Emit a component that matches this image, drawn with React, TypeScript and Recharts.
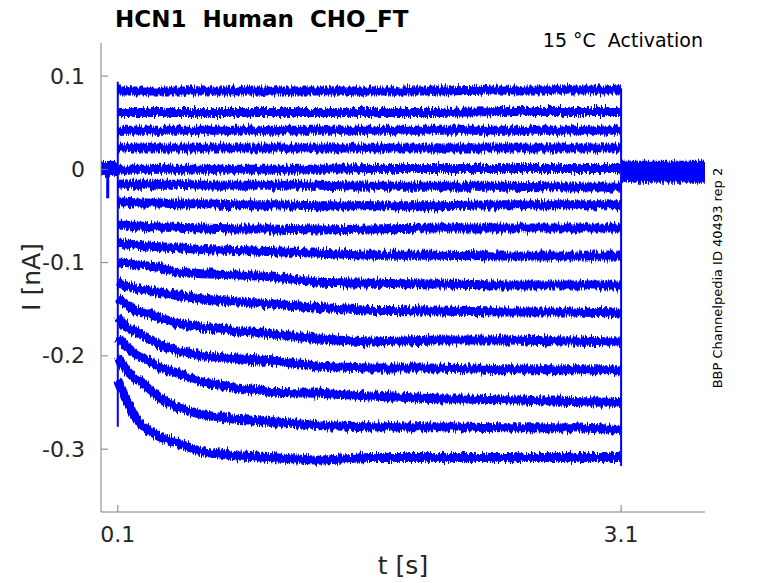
import React from 'react';
import { ComposedChart, Line, XAxis, YAxis } from 'recharts';

// sample times (s) inside the activation step
const times = [0.1, 0.15, 0.2, 0.25, 0.35, 0.45, 0.6, 0.8, 1.0, 1.3, 1.6, 2.0, 2.4, 2.8, 3.1];

// current traces (nA), top to bottom
const trace01 = [0.084, 0.084, 0.084, 0.084, 0.084, 0.084, 0.084, 0.084, 0.084, 0.084, 0.084, 0.084, 0.085, 0.085, 0.085];
const trace02 = [0.061, 0.061, 0.061, 0.061, 0.061, 0.061, 0.061, 0.061, 0.061, 0.061, 0.061, 0.061, 0.062, 0.062, 0.062];
const trace03 = [0.042, 0.042, 0.042, 0.042, 0.042, 0.042, 0.042, 0.042, 0.042, 0.042, 0.042, 0.042, 0.042, 0.042, 0.042];
const trace04 = [0.023, 0.023, 0.023, 0.023, 0.023, 0.023, 0.023, 0.023, 0.023, 0.023, 0.023, 0.023, 0.023, 0.023, 0.023];
const trace05 = [0.0, 0.0, 0.0, 0.0, 0.0, 0.0, 0.0, 0.0, 0.0, 0.0, 0.001, 0.001, 0.001, 0.001, 0.001];
const trace06 = [-0.016, -0.016, -0.016, -0.016, -0.016, -0.016, -0.017, -0.017, -0.017, -0.017, -0.018, -0.018, -0.018, -0.019, -0.019];
const trace07 = [-0.035, -0.035, -0.036, -0.036, -0.036, -0.037, -0.037, -0.038, -0.038, -0.039, -0.039, -0.039, -0.038, -0.038, -0.038];
const trace08 = [-0.06, -0.06, -0.061, -0.061, -0.062, -0.062, -0.063, -0.064, -0.064, -0.065, -0.064, -0.063, -0.063, -0.063, -0.063];
const trace09 = [-0.079, -0.08, -0.081, -0.082, -0.083, -0.084, -0.086, -0.087, -0.088, -0.09, -0.092, -0.092, -0.093, -0.093, -0.093];
const trace10 = [-0.1, -0.101, -0.102, -0.103, -0.105, -0.11, -0.112, -0.113, -0.115, -0.121, -0.122, -0.123, -0.124, -0.124, -0.124];
const trace11 = [-0.121, -0.125, -0.127, -0.129, -0.132, -0.135, -0.139, -0.142, -0.144, -0.148, -0.151, -0.152, -0.153, -0.153, -0.154];
const trace12 = [-0.138, -0.145, -0.151, -0.153, -0.159, -0.165, -0.169, -0.173, -0.176, -0.182, -0.185, -0.183, -0.183, -0.184, -0.185];
const trace13 = [-0.159, -0.169, -0.174, -0.178, -0.188, -0.194, -0.2, -0.203, -0.205, -0.211, -0.213, -0.213, -0.215, -0.215, -0.215];
const trace14 = [-0.18, -0.19, -0.197, -0.202, -0.213, -0.218, -0.228, -0.234, -0.239, -0.24, -0.243, -0.246, -0.247, -0.249, -0.25];
const trace15 = [-0.202, -0.215, -0.224, -0.229, -0.245, -0.255, -0.263, -0.268, -0.27, -0.275, -0.276, -0.276, -0.277, -0.277, -0.279];
const trace16 = [-0.226, -0.247, -0.265, -0.276, -0.287, -0.293, -0.303, -0.307, -0.309, -0.312, -0.309, -0.309, -0.309, -0.309, -0.309];

// holding segments before and after the step
const preTimes = [0, 0.1];
const preLevel = [0.001, 0.001];
const tailTimes = [3.1, 3.6];
const tailLevel = [-0.0025, -0.0025];

// vertical edges of the step and the artefact before it
const stepOnTime = 0.1;
const stepOnRange = [0.094, -0.276];
const stepOffTime = 3.1;
const stepOffRange = [0.087, -0.318];
const spikeTime = 0.04;
const spikeRange = [-0.004, -0.031];

const xTicks = [0.1, 3.1];
const yTicks = [-0.3, -0.2, -0.1, 0, 0.1];

const traces = [trace01, trace02, trace03, trace04, trace05, trace06, trace07, trace08, trace09, trace10, trace11, trace12, trace13, trace14, trace15, trace16];

const table = times.map((t, i) => {
  const row: Record<string, number> = { t };
  traces.forEach((tr, k) => {
    row['s' + k] = tr[i];
  });
  return row;
});

const preData = preTimes.map((t, i) => ({ t, v: preLevel[i] }));
const tailData = tailTimes.map((t, i) => ({ t, v: tailLevel[i] }));
const stepOnData = stepOnRange.map((v) => ({ t: stepOnTime, v }));
const stepOffData = stepOffRange.map((v) => ({ t: stepOffTime, v }));
const spikeData = spikeRange.map((v) => ({ t: spikeTime, v }));

const FONT = 'DejaVu Sans';
const BLUE = '#0000ff';
const AXIS = '#808080';
const TEXT = '#262626';

const YTick = (props: any) => {
  const { x, y, payload } = props;
  return (
    <g>
      <line x1={x} x2={x + 7} y1={y} y2={y} stroke={AXIS} strokeWidth={1} />
      <text x={x - 16} y={y} textAnchor="end" dominantBaseline="central" fontSize={22} fill={TEXT} fontFamily={FONT}>
        {String(payload.value)}
      </text>
    </g>
  );
};

const XTick = (props: any) => {
  const { x, y, payload } = props;
  return (
    <g>
      <line x1={x} x2={x} y1={y} y2={y - 7} stroke={AXIS} strokeWidth={1} />
      <text x={x} y={y + 30} textAnchor="middle" fontSize={22} fill={TEXT} fontFamily={FONT}>
        {String(payload.value)}
      </text>
    </g>
  );
};

export default function App() {
  return (
    <div style={{ position: 'absolute', left: 0, top: 0, width: 778, height: 583, background: '#fff' }}>
      <svg width={0} height={0} style={{ position: 'absolute' }}>
        <defs>
          <filter id="jitter" filterUnits="userSpaceOnUse" x={0} y={0} width={778} height={583}>
            <feTurbulence type="fractalNoise" baseFrequency="0.7 0.05" numOctaves={3} seed={7} result="n" />
            <feColorMatrix in="n" type="matrix" values="0 0 0 0 0.5  0 1 0 0 0  0 0 1 0 0  0 0 0 0 1" result="m" />
            <feDisplacementMap in="SourceGraphic" in2="m" scale={9} xChannelSelector="R" yChannelSelector="G" />
          </filter>
        </defs>
      </svg>
      <ComposedChart width={778} height={583} data={table} margin={{ top: 43, right: 73, bottom: 0, left: 0 }}>
        <XAxis
          type="number"
          dataKey="t"
          domain={[0, 3.6]}
          ticks={xTicks}
          allowDataOverflow
          height={71}
          tickSize={0}
          tickMargin={0}
          tickLine={false}
          axisLine={{ stroke: AXIS }}
          tick={<XTick />}
          interval={0}
        />
        <YAxis
          type="number"
          domain={[-0.3674, 0.1355]}
          ticks={yTicks}
          allowDataOverflow
          width={101}
          tickSize={0}
          tickMargin={0}
          tickLine={false}
          axisLine={{ stroke: AXIS }}
          tick={<YTick />}
          interval={0}
        />
        <Line data={preData} dataKey="v" stroke={BLUE} strokeWidth={15} dot={false} isAnimationActive={false} strokeLinecap="butt" filter="url(#jitter)" />
        <Line data={spikeData} dataKey="v" stroke={BLUE} strokeWidth={3} dot={false} isAnimationActive={false} strokeLinecap="butt" />
        <Line data={tailData} dataKey="v" stroke={BLUE} strokeWidth={22} dot={false} isAnimationActive={false} strokeLinecap="butt" filter="url(#jitter)" />
        {traces.map((_, k) => (
          <Line
            key={k}
            dataKey={'s' + k}
            stroke={BLUE}
            strokeWidth={9}
            dot={false}
            isAnimationActive={false}
            strokeLinecap="butt"
            strokeLinejoin="round"
            filter="url(#jitter)"
          />
        ))}
        <Line data={stepOnData} dataKey="v" stroke={BLUE} strokeWidth={2} dot={false} isAnimationActive={false} strokeLinecap="butt" />
        <Line data={stepOffData} dataKey="v" stroke={BLUE} strokeWidth={2} dot={false} isAnimationActive={false} strokeLinecap="butt" />
      </ComposedChart>
      <svg width={778} height={583} style={{ position: 'absolute', left: 0, top: 0, pointerEvents: 'none' }}>
        <text x={115} y={27} fontSize={23} fontWeight="bold" fill="#000" fontFamily={FONT} style={{ whiteSpace: 'pre' }}>
          {'HCN1  Human  CHO_FT'}
        </text>
        <text x={703} y={47} fontSize={19} textAnchor="end" fill="#000" fontFamily={FONT} style={{ whiteSpace: 'pre' }}>
          {'15 °C  Activation'}
        </text>
        <text
          x={31}
          y={277}
          fontSize={25}
          textAnchor="middle"
          dominantBaseline="central"
          fill={TEXT}
          fontFamily={FONT}
          transform="rotate(-90 31 277)"
        >
          I [nA]
        </text>
        <text x={403} y={574} fontSize={25} textAnchor="middle" fill={TEXT} fontFamily={FONT}>
          t [s]
        </text>
        <text
          x={717}
          y={278}
          fontSize={13}
          textAnchor="middle"
          dominantBaseline="central"
          fill="#000"
          fontFamily={FONT}
          transform="rotate(-90 717 278)"
        >
          BBP Channelpedia ID 40493 rep 2
        </text>
      </svg>
    </div>
  );
}
